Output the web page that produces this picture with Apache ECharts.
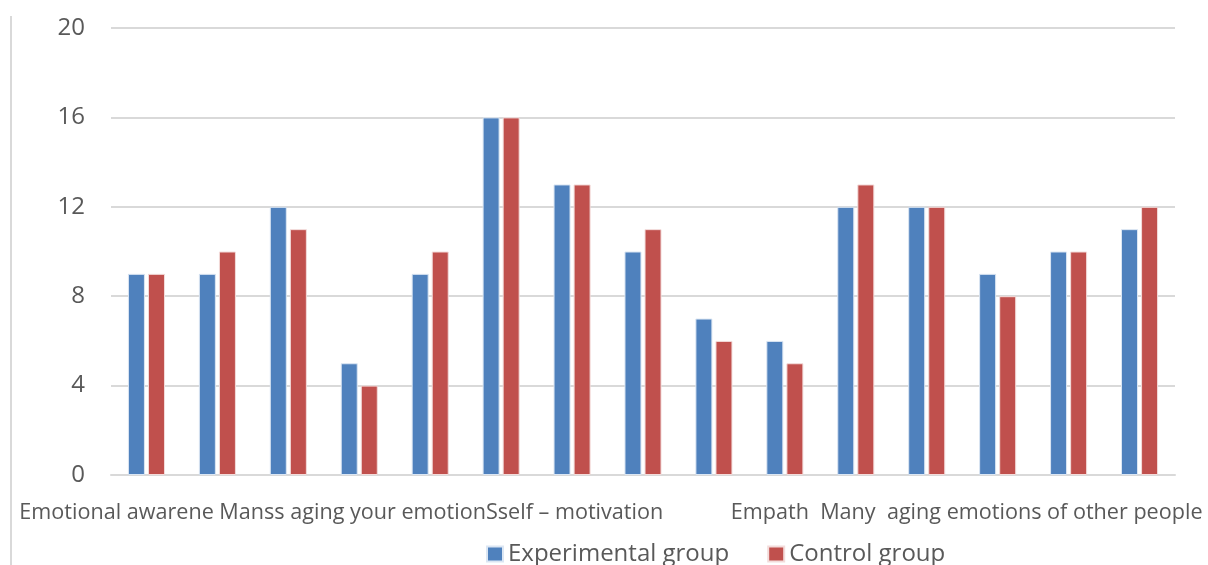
<!DOCTYPE html>
<html>
<head>
<meta charset="utf-8">
<script src="https://cdn.jsdelivr.net/npm/echarts@6/dist/echarts.min.js"></script>
<style>
html,body{margin:0;padding:0;background:#fff;}
#chart{width:1208px;height:565px;}
</style>
</head>
<body>
<div id="chart"></div>
<script>
var categories = ['c1','c2','c3','c4','c5','c6','c7','c8','c9','c10','c11','c12','c13','c14','c15'];
var tickLabels = ['', '', '', 'Emotional awarene Manss aging your emotionSself \u2013 motivation', '', '', '', '', '', '', '', '', 'Empath  Many  aging emotions of other people', '', ''];
var experimental = [9, 9, 12, 5, 9, 16, 13, 10, 7, 6, 12, 12, 9, 10, 11];
var control = [9, 10, 11, 4, 10, 16, 13, 11, 6, 5, 13, 12, 8, 10, 12];
var yTicks = [0, 4, 8, 12, 16, 20];

var chart = echarts.init(document.getElementById('chart'), null, {renderer: 'canvas'});
var FONT = '"Open Sans"';
chart.setOption({
  animation: false,
  backgroundColor: '#ffffff',
  textStyle: {fontFamily: FONT},
  grid: {left: 111, right: 33, top: 28, bottom: 90, containLabel: false},
  legend: {
    left: 481, top: 537,
    itemWidth: 16, itemHeight: 15, itemGap: 38,
    icon: 'rect',
    textStyle: {fontSize: 24, color: '#595959', fontFamily: FONT},
    data: ['Experimental group', 'Control group']
  },
  graphic: [{
    type: 'line', silent: true,
    shape: {x1: 11, y1: 16, x2: 11, y2: 565},
    style: {stroke: '#d9d9d9', lineWidth: 2}
  }],
  xAxis: {
    type: 'category',
    data: categories,
    axisLine: {show: true, lineStyle: {color: '#d9d9d9', width: 2}},
    axisTick: {show: false},
    axisLabel: {
      interval: 0,
      margin: 27,
      color: '#595959',
      fontSize: 21.6,
      fontFamily: FONT,
      formatter: function (v, i) {
        var t = tickLabels[i];
        if (!t) return '';
        return i === 3 ? '{a|' + t + '}' : '{b|' + t + '}';
      },
      rich: {
        a: {fontSize: 21.6, color: '#595959', fontFamily: FONT, padding: [0, 36, 0, 0]},
        b: {fontSize: 21.6, color: '#595959', fontFamily: FONT, padding: [0, 62, 0, 0]}
      }
    }
  },
  yAxis: {
    type: 'value',
    min: 0, max: 20, interval: 4,
    axisLine: {show: false},
    axisTick: {show: false},
    splitLine: {lineStyle: {color: '#d9d9d9', width: 2}},
    axisLabel: {
      margin: 26, color: '#595959', fontSize: 24, fontFamily: FONT,
      formatter: function (v) { return yTicks.indexOf(v) >= 0 ? String(v) : ''; }
    }
  },
  series: [{
    name: 'Experimental group',
    type: 'bar',
    data: experimental,
    barWidth: 17,
    barGap: '18%',
    itemStyle: {color: '#4F81BD', borderColor: '#dbe6f3', borderWidth: 1}
  }, {
    name: 'Control group',
    type: 'bar',
    data: control,
    barWidth: 17,
    itemStyle: {color: '#C0504D', borderColor: '#f3dcdb', borderWidth: 1}
  }]
});
</script>
</body>
</html>
